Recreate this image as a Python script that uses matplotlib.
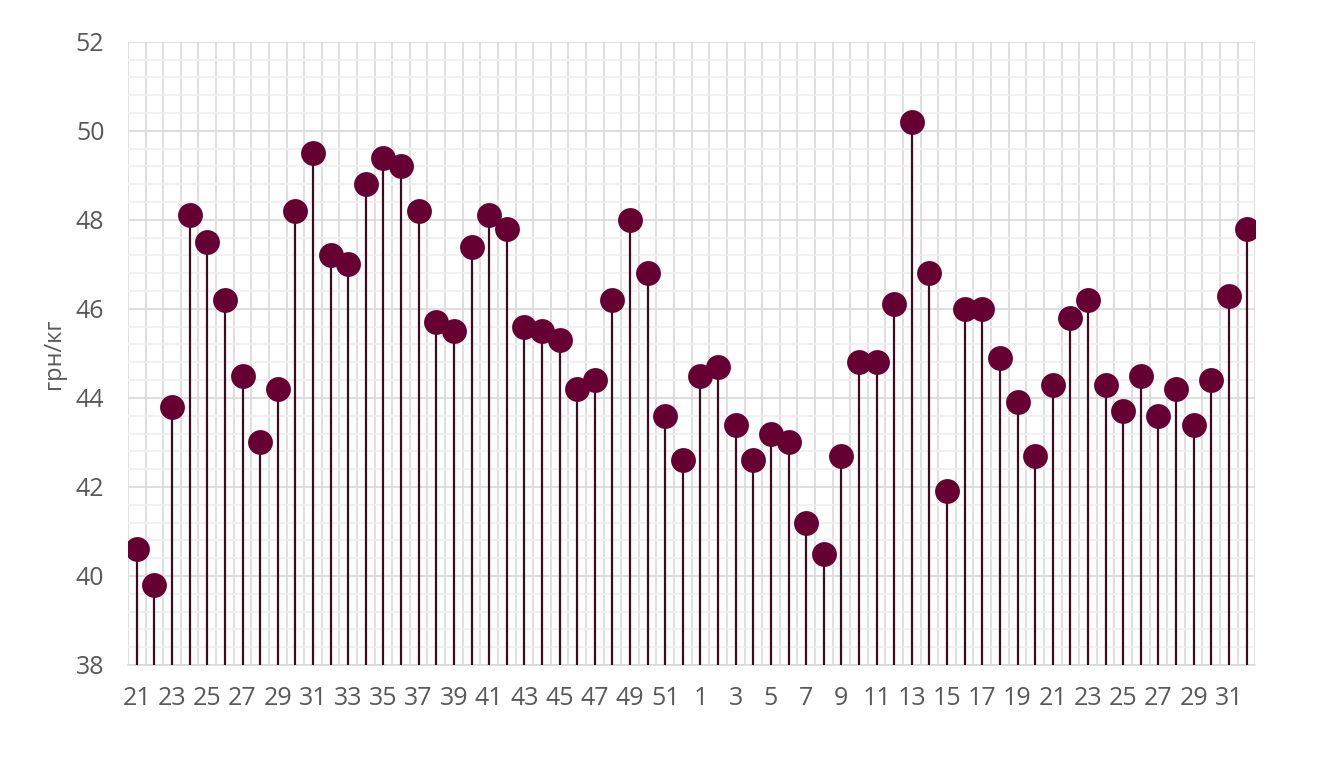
import numpy as np
import matplotlib.pyplot as plt
from matplotlib.ticker import MultipleLocator, FixedLocator

weeks = list(range(21, 53)) + list(range(1, 33))
prices = [40.6, 39.8, 43.8, 48.1, 47.5, 46.2, 44.5, 43.0, 44.2, 48.2,
          49.5, 47.2, 47.0, 48.8, 49.4, 49.2, 48.2, 45.7, 45.5, 47.4,
          48.1, 47.8, 45.6, 45.5, 45.3, 44.2, 44.4, 46.2, 48.0, 46.8,
          43.6, 42.6,
          44.5, 44.7, 43.4, 42.6, 43.2, 43.0, 41.2, 40.5, 42.7, 44.8,
          44.8, 46.1, 50.2, 46.8, 41.9, 46.0, 46.0, 44.9, 43.9, 42.7,
          44.3, 45.8, 46.2, 44.3, 43.7, 44.5, 43.6, 44.2, 43.4, 44.4,
          46.3, 47.8]

plt.rcParams['font.family'] = ['Open Sans', 'DejaVu Sans']

fig = plt.figure(figsize=(13.2, 7.6), dpi=100)
ax = fig.add_axes([0.097, 0.125, 0.854, 0.82])

x = np.arange(len(weeks))
ax.vlines(x, 38, prices, color='#3d0a1f', lw=1.6, zorder=3)
ax.scatter(x, prices, s=320, color='#660033', zorder=4, linewidths=0)

ax.set_xlim(-0.5, len(weeks) - 0.5)
ax.set_ylim(38, 52)

ax.yaxis.set_major_locator(MultipleLocator(2))
ax.yaxis.set_minor_locator(MultipleLocator(0.4))
ax.set_xticks(x[::2])
ax.set_xticklabels([str(w) for w in weeks[::2]])
ax.xaxis.set_minor_locator(FixedLocator(np.arange(-0.5, len(weeks), 1)))

ax.grid(which='major', axis='y', color='#d9d9d9', lw=1.2, zorder=0)
ax.grid(which='minor', axis='y', color='#efefef', lw=1.2, zorder=0)
ax.grid(which='minor', axis='x', color='#d9d9d9', lw=1.2, zorder=1)
ax.grid(which='major', axis='x', visible=False)

for s in ['top', 'right', 'left']:
    ax.spines[s].set_visible(False)
ax.spines['bottom'].set_color('#d9d9d9')
ax.spines['bottom'].set_linewidth(1.2)

ax.tick_params(which='both', length=0, colors='#595959', labelsize=18)
ax.tick_params(axis='x', pad=15)
ax.tick_params(axis='y', pad=17)
ax.set_ylabel('грн/кг', color='#595959', fontsize=17, labelpad=7)

fig.savefig('out.png')
